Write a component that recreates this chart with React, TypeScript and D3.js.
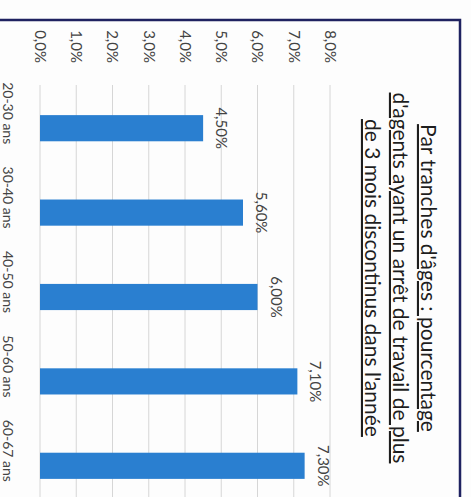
import React from "react";
import * as d3 from "d3";

const categories = ["20-30 ans", "30-40 ans", "40-50 ans", "50-60 ans", "60-67 ans"];
const values = [4.5, 5.6, 6.0, 7.1, 7.3];
const tickValues = [0, 1, 2, 3, 4, 5, 6, 7, 8];
const titleLines = [
  "Par tranches d'âges : pourcentage",
  "d'agents ayant un arrêt de travail de plus",
  "de 3 mois discontinus dans l'année",
];

const W = 471;
const H = 497;
// the chart is drawn as a column chart, then rotated 90° clockwise

const fmtTick = (v: number) => v.toFixed(1).replace(".", ",") + "%";
const fmtVal = (v: number) => v.toFixed(2).replace(".", ",") + "%";

export default function App() {
  const x = d3.scaleBand<string>().domain(categories).range([86, 508]).paddingInner(0.69).paddingOuter(0.345);
  const y = d3.scaleLinear().domain([0, 8]).range([431, 141]);
  const font = "Lato, 'Open Sans', sans-serif";

  return (
    <svg width={W} height={H} style={{ position: "absolute", left: 0, top: 0, background: "#fff" }}>
      <rect x={0} y={0} width={W} height={H} fill="#fdfdfd" />
      <g transform={`translate(${W},0) rotate(90)`}>
        {/* chart border */}
        <rect x={20} y={11} width={600} height={520} fill="none" stroke="#1f2260" strokeWidth={2.5} />
        {/* title */}
        {titleLines.map((t, i) => (
          <text
            key={i}
            x={278}
            y={50 + i * 28}
            textAnchor="middle"
            fontFamily={font}
            fontSize={21}
            fill="#1e1e1e"
            textDecoration="underline"
          >
            {t}
          </text>
        ))}
        {/* gridlines */}
        {tickValues.map((t) => (
          <line key={t} x1={85} x2={520} y1={y(t)} y2={y(t)} stroke="#d6d6d6" strokeWidth={1} />
        ))}
        {/* tick labels */}
        {tickValues.map((t) => (
          <text key={t} x={63} y={y(t)} dy="0.35em" textAnchor="end" fontFamily={font} fontSize={15} fill="#444">
            {fmtTick(t)}
          </text>
        ))}
        {/* bars */}
        {categories.map((c, i) => (
          <rect
            key={c}
            x={x(c)!}
            y={y(values[i])}
            width={x.bandwidth()}
            height={y(0) - y(values[i])}
            fill="#2a7fd0"
          />
        ))}
        {/* data labels */}
        {categories.map((c, i) => (
          <text
            key={c}
            x={x(c)! + x.bandwidth() / 2}
            y={y(values[i]) - 13}
            textAnchor="middle"
            fontFamily={font}
            fontSize={15}
            fill="#444"
          >
            {fmtVal(values[i])}
          </text>
        ))}
        {/* category labels */}
        {categories.map((c) => (
          <text
            key={c}
            x={x(c)! + x.bandwidth() / 2 - 15}
            y={468}
            textAnchor="middle"
            fontFamily={font}
            fontSize={14}
            fill="#444"
          >
            {c}
          </text>
        ))}
      </g>
    </svg>
  );
}
